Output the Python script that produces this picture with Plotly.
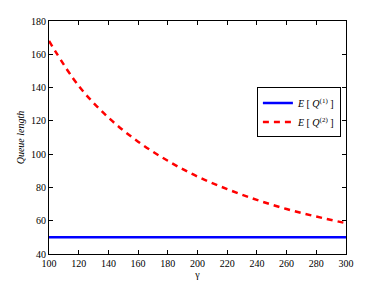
import plotly.graph_objects as go

gamma = [100, 120, 140, 160, 180, 200, 220, 240, 260, 280, 300]
q1 = [50, 50, 50, 50, 50, 50, 50, 50, 50, 50, 50]
q2 = [168, 141, 122, 107.5, 96, 86.5, 79, 72.5, 67, 62.5, 58.5]

x_ticks = list(range(100, 301, 20))
y_ticks = list(range(40, 181, 20))

font = "Liberation Serif, Times New Roman, serif"

fig = go.Figure()
fig.add_trace(go.Scatter(x=gamma, y=q1, mode="lines",
                         line=dict(color="#0000ff", width=2.5),
                         name="<i>E</i> [ <i>Q</i><sup>(1)</sup> ]"))
fig.add_trace(go.Scatter(x=gamma, y=q2, mode="lines", line_shape="spline",
                         line=dict(color="#ff0000", width=2.5, dash="6px,5px"),
                         name="<i>E</i> [ <i>Q</i><sup>(2)</sup> ]"))

axis_common = dict(showgrid=False, zeroline=False, showline=True, linecolor="black",
                   linewidth=1, mirror="ticks", ticks="inside", ticklen=4,
                   tickcolor="black", automargin=False,
                   tickfont=dict(family=font, size=10, color="black"))

fig.update_layout(
    width=382, height=287,
    margin=dict(l=49, r=36, t=21, b=33),
    paper_bgcolor="white", plot_bgcolor="white",
    font=dict(family=font, color="black"),
    xaxis=dict(range=[100, 300], tickvals=x_ticks,
               title=dict(text="γ", font=dict(family=font, size=10), standoff=2),
               **axis_common),
    yaxis=dict(range=[40, 180], tickvals=y_ticks,
               title=dict(text="<i>Queue length</i>", font=dict(family=font, size=10), standoff=4),
               **axis_common),
    legend=dict(x=0.70, y=0.715, xanchor="left", yanchor="top",
                bordercolor="black", borderwidth=1, bgcolor="white",
                font=dict(family=font, size=10)),
    showlegend=True,
)

fig.write_html("out.html", config={"displayModeBar": False},
               post_script="document.body.style.margin='0';document.body.style.padding='0';")
